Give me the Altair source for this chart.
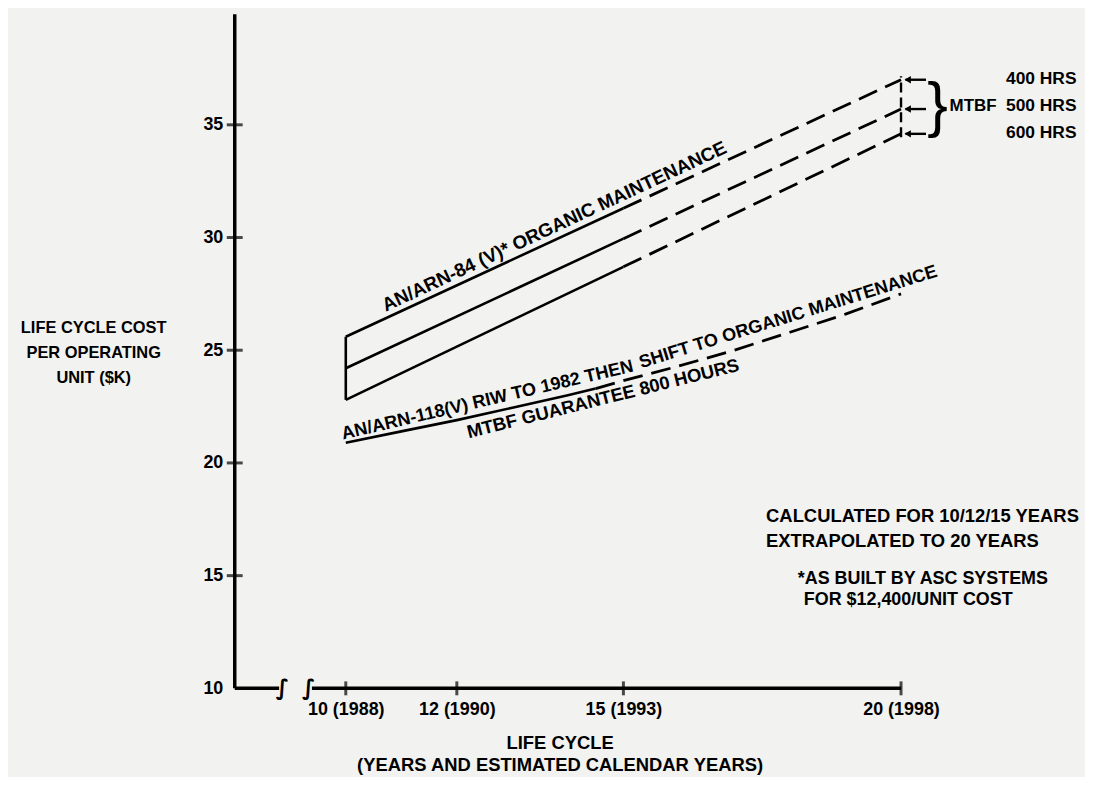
import altair as alt
import pandas as pd

# ---------------- data ----------------
years_84 = [10, 15, 20]
arn84_400 = [25.6, 31.3, 37.0]
arn84_500 = [24.2, 29.95, 35.7]
arn84_600 = [22.8, 28.7, 34.6]
arn84_solid_until = 15

years_118 = [10, 11, 12, 13, 14, 14.5, 15, 16, 17, 18, 19, 20]
arn118 = [20.9, 21.4, 21.9, 22.45, 23.0, 23.3, 23.65, 24.3, 25.0, 25.8, 26.6, 27.5]
arn118_solid_until = 14.5

x_tick_years = [10, 12, 15, 20]
x_tick_calendar = [1988, 1990, 1993, 1998]
y_tick_values = [10, 15, 20, 25, 30, 35]
mtbf_hours = ["400 HRS", "500 HRS", "600 HRS"]

FONT = "Liberation Sans"
INK = "black"

# ---------------- tables ----------------
rows = []
for name, vals in [("400", arn84_400), ("500", arn84_500), ("600", arn84_600)]:
    for x, y in zip(years_84, vals):
        if x <= arn84_solid_until:
            rows.append(dict(series=name, part="solid", x=x, y=y))
        if x >= arn84_solid_until:
            rows.append(dict(series=name, part="dashed", x=x, y=y))
for x, y in zip(years_118, arn118):
    if x <= arn118_solid_until:
        rows.append(dict(series="118", part="solid", x=x, y=y))
    if x >= arn118_solid_until:
        rows.append(dict(series="118", part="dashed", x=x, y=y))
lines = pd.DataFrame(rows)

X_SCALE = alt.Scale(domain=[8, 20], nice=False, zero=False)
Y_SCALE = alt.Scale(domain=[10, 40], nice=False, zero=False)

label_expr = " : ".join(
    f"datum.value == {y} ? '{y} ({c})'" for y, c in zip(x_tick_years, x_tick_calendar)
) + " : ''"

x_axis = alt.Axis(values=x_tick_years, labelExpr=label_expr, title=None, domain=False,
                  ticks=False, tickSize=0, grid=False, labelFont=FONT, labelFontSize=18,
                  labelFontWeight="bold", labelColor=INK, labelPadding=12, labelFlush=False)
y_axis = alt.Axis(values=y_tick_values, format="d", title=None, domain=False,
                  ticks=False, tickSize=0, grid=False, labelFont=FONT, labelFontSize=18,
                  labelFontWeight="bold", labelColor=INK, labelPadding=12)


def enc(chart, **kw):
    return chart.encode(
        x=alt.X("x:Q", scale=X_SCALE, axis=x_axis),
        y=alt.Y("y:Q", scale=Y_SCALE, axis=y_axis),
        **kw,
    )


def text_layer(df, **mark):
    base = dict(font=FONT, fontWeight="bold", color=INK)
    base.update(mark)
    return enc(alt.Chart(df).mark_text(**base), text="text:N")


layers = []

# axes drawn as rules
layers.append(enc(alt.Chart(pd.DataFrame({"x": [8], "y": [10], "y2": [39.9]}))
                  .mark_rule(color=INK, strokeWidth=3.5), y2="y2:Q"))
layers.append(enc(alt.Chart(pd.DataFrame({"x": [8, 9.39], "x2": [8.8, 20], "y": [10, 10]}))
                  .mark_rule(color=INK, strokeWidth=3.5), x2="x2:Q"))
layers.append(text_layer(pd.DataFrame({"x": [8.86, 9.33], "y": [10, 10], "text": ["∫", "∫"]}),
                         font="DejaVu Sans", fontSize=22, baseline="middle", align="center"))
layers.append(enc(alt.Chart(pd.DataFrame({"x": [8] * 5, "y": y_tick_values[1:]}))
                  .mark_tick(orient="horizontal", size=16, thickness=3, color=INK)))
layers.append(enc(alt.Chart(pd.DataFrame({"x": x_tick_years, "y": [10] * len(x_tick_years)}))
                  .mark_tick(orient="vertical", size=14, thickness=3, color=INK)))

# data lines
layers.append(enc(alt.Chart(lines[lines.part == "solid"])
                  .mark_line(color=INK, strokeWidth=2.6), detail="series:N"))
layers.append(enc(alt.Chart(lines[lines.part == "dashed"])
                  .mark_line(color=INK, strokeWidth=2.8, strokeDash=[20, 9]), detail="series:N"))
layers.append(enc(alt.Chart(pd.DataFrame({"x": [years_84[0]], "y": [arn84_600[0]], "y2": [arn84_400[0]]}))
                  .mark_rule(color=INK, strokeWidth=2.6), y2="y2:Q"))

# right-hand end markers
ends = [arn84_400[-1], arn84_500[-1], arn84_600[-1]]
layers.append(enc(alt.Chart(pd.DataFrame({"x": [20], "y": [min(ends) - 0.15], "y2": [max(ends) + 0.15]}))
                  .mark_rule(color=INK, strokeWidth=2.4, strokeDash=[10, 5]), y2="y2:Q"))
layers.append(enc(alt.Chart(pd.DataFrame({"x": [20.08] * 3, "x2": [20.45] * 3, "y": ends}))
                  .mark_rule(color=INK, strokeWidth=2.4), x2="x2:Q"))
layers.append(enc(alt.Chart(pd.DataFrame({"x": [20.12] * 3, "y": ends}))
                  .mark_point(shape="triangle-left", filled=True, size=55, color=INK, opacity=1)))
layers.append(text_layer(pd.DataFrame({"x": [20.66], "y": [35.84], "text": ["}"]}),
                         fontWeight="normal", fontSize=62, baseline="middle", align="center"))
layers.append(text_layer(pd.DataFrame({"x": [20.875], "y": [35.84], "text": ["MTBF"]}),
                         fontSize=17, baseline="middle", align="left"))
layers.append(text_layer(pd.DataFrame({"x": [21.89] * 3, "y": [37.03, 35.84, 34.65], "text": mtbf_hours}),
                         fontSize=17.5, baseline="middle", align="left"))

# line labels
layers.append(text_layer(pd.DataFrame({"x": [13.8], "y": [30.25], "text": ["AN/ARN-84 (V)* ORGANIC MAINTENANCE"]}),
                         fontSize=19, angle=335, align="center", baseline="alphabetic"))
layers.append(text_layer(pd.DataFrame({"x": [9.95], "y": [21.04],
                                       "text": ["AN/ARN-118(V) RIW TO 1982 THEN"]}),
                         fontSize=18.2, angle=346.8, align="left", baseline="alphabetic"))
layers.append(text_layer(pd.DataFrame({"x": [15.32], "y": [24.2],
                                       "text": ["SHIFT TO ORGANIC MAINTENANCE"]}),
                         fontSize=18.2, angle=342.8, align="left", baseline="alphabetic"))
layers.append(text_layer(pd.DataFrame({"x": [14.66], "y": [22.6], "text": ["MTBF GUARANTEE 800 HOURS"]}),
                         fontSize=18.5, angle=346, align="center", baseline="alphabetic"))

# notes
layers.append(text_layer(pd.DataFrame({"x": [17.57, 17.57], "y": [17.64, 16.54],
                                       "text": ["CALCULATED FOR 10/12/15 YEARS", "EXTRAPOLATED TO 20 YEARS"]}),
                         fontSize=18.5, baseline="middle", align="left"))
layers.append(text_layer(pd.DataFrame({"x": [18.14, 18.25], "y": [14.86, 13.93],
                                       "text": ["*AS BUILT BY ASC SYSTEMS", "FOR $12,400/UNIT COST"]}),
                         fontSize=18, baseline="middle", align="left"))

# axis titles
layers.append(text_layer(pd.DataFrame({"x": [5.46] * 3, "y": [25.99, 24.88, 23.78],
                                       "text": ["LIFE CYCLE COST", "PER OPERATING", "UNIT ($K)"]}),
                         fontSize=16.5, baseline="middle", align="center"))
layers.append(text_layer(pd.DataFrame({"x": [13.86, 13.86], "y": [7.58, 6.62],
                                       "text": ["LIFE CYCLE", "(YEARS AND ESTIMATED CALENDAR YEARS)"]}),
                         fontSize=18.5, baseline="middle", align="center"))

chart = alt.layer(*layers).properties(
    width=670,
    height=680,
    autosize=alt.AutoSizeParams(type="none"),
    padding={"left": 228, "top": 2, "right": 185, "bottom": 87},
    background="#f2f2f0",
).configure_view(stroke=None)

chart.save("out.html", embed_options={"renderer": "svg", "actions": False})
